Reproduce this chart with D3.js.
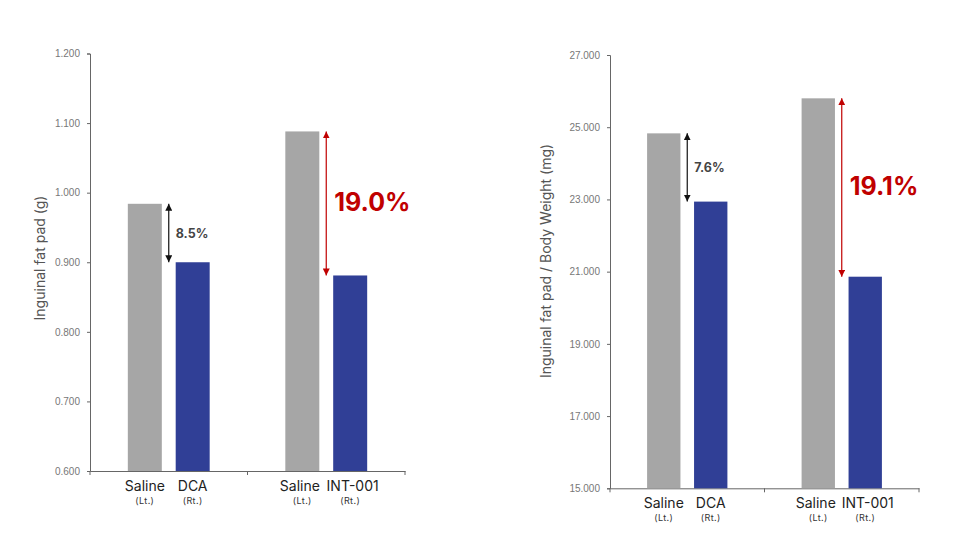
<!DOCTYPE html>
<html>
<head>
<meta charset="utf-8">
<script src="https://cdn.jsdelivr.net/npm/d3@7"></script>
<style>
  body { margin: 0; background: #fff; }
  svg { display: block; font-family: Inter, "Noto Sans", sans-serif; }
</style>
</head>
<body>
<div id="chart"></div>
<script>
var width = 966;
var height = 543;

// data
var groups = ["DCA", "INT-001"];
var barNames = [["Saline", "DCA"], ["Saline", "INT-001"]];
var sideLabels = ["(Lt.)", "(Rt.)"];

var fatPad = [[0.984, 0.900], [1.088, 0.881]];
var fatPadTicks = [0.6, 0.7, 0.8, 0.9, 1.0, 1.1, 1.2];
var fatPadPct = ["8.5%", "19.0%"];

var fatPerBw = [[24.83, 22.94], [25.80, 20.86]];
var fatPerBwTicks = [15, 17, 19, 21, 23, 25, 27];
var fatPerBwPct = ["7.6%", "19.1%"];

var barColors = ["#a6a6a6", "#303f96"];
var arrowColors = ["#111", "#c00000"];

var svg = d3.select("#chart")
  .append("svg")
  .attr("width", width)
  .attr("height", height);

var defs = svg.append("defs");
arrowColors.forEach(function(c, i) {
  ["s", "e"].forEach(function(end) {
    defs.append("marker")
      .attr("id", "arr" + i + end)
      .attr("viewBox", "0 0 10 10")
      .attr("refX", 10).attr("refY", 5)
      .attr("markerWidth", 7).attr("markerHeight", 7)
      .attr("markerUnits", "userSpaceOnUse")
      .attr("orient", end == "s" ? "auto-start-reverse" : "auto")
      .append("path")
      .attr("d", "M0,0L10,5L0,10Z")
      .attr("fill", c);
  });
});

function drawChart(opt) {
  var g = svg.append("g");

  var x = d3.scaleBand().domain(groups).range([opt.x0, opt.x1]);
  var xi = d3.scaleBand().domain([0, 1])
    .range([0, x.bandwidth()])
    .paddingInner(0.29)
    .paddingOuter(0.79);
  var y = d3.scaleLinear().domain(opt.domain).range([opt.y0, opt.y1]);

  // y axis
  var yAxis = g.append("g")
    .attr("transform", "translate(" + opt.x0 + ",0)")
    .call(d3.axisLeft(y).tickValues(opt.ticks).tickSize(3).tickPadding(7)
      .tickFormat(d3.format(".3f")));
  yAxis.selectAll("path, line").attr("stroke", "#666");
  yAxis.selectAll("text").attr("fill", "#777").attr("font-size", 10);

  // x axis
  var xAxis = g.append("g")
    .attr("transform", "translate(0," + opt.y0 + ")")
    .call(d3.axisBottom(x).tickValues([]).tickSizeOuter(0));
  xAxis.select("path").attr("stroke", "#666");
  xAxis.selectAll(".tk")
    .data([opt.x0, x(groups[1]), opt.x1])
    .enter().append("line")
    .attr("x1", function(d) { return d; })
    .attr("x2", function(d) { return d; })
    .attr("y1", 0).attr("y2", 4)
    .attr("stroke", "#666");

  groups.forEach(function(grp, gi) {
    var gx = x(grp);
    var vals = opt.values[gi];

    g.selectAll(".bar" + gi)
      .data(vals)
      .enter().append("rect")
      .attr("x", function(d, i) { return gx + xi(i); })
      .attr("y", function(d) { return y(d); })
      .attr("width", xi.bandwidth())
      .attr("height", function(d) { return y(opt.domain[0]) - y(d); })
      .attr("fill", function(d, i) { return barColors[i]; });

    // category labels (second group sits a bit spread apart)
    vals.forEach(function(d, i) {
      var cx = gx + xi(i) + xi.bandwidth() / 2;
      var nudge = gi == 1 ? (i == 0 ? -2.5 : 2.5) : 0;
      g.append("text")
        .attr("x", cx + nudge).attr("y", opt.y0 + 20)
        .attr("text-anchor", "middle")
        .attr("font-size", 14)
        .attr("fill", "#222")
        .text(barNames[gi][i]);
      g.append("text")
        .attr("x", cx).attr("y", opt.y0 + 33)
        .attr("text-anchor", "middle")
        .attr("font-size", 9)
        .attr("letter-spacing", 0.4)
        .attr("fill", "#333")
        .text(sideLabels[i]);
    });

    // difference arrow
    var ax = gx + (xi(0) + xi.bandwidth() + xi(1)) / 2;
    var ya = y(vals[0]), yb = y(vals[1]);
    g.append("line")
      .attr("x1", ax).attr("x2", ax)
      .attr("y1", ya).attr("y2", yb)
      .attr("stroke", arrowColors[gi])
      .attr("stroke-width", 1.2)
      .attr("marker-start", "url(#arr" + gi + "s)")
      .attr("marker-end", "url(#arr" + gi + "e)");

    g.append("text")
      .attr("x", ax + (gi == 0 ? 7 : 8))
      .attr("y", (ya + yb) / 2 - (gi == 0 ? 0 : 1.5))
      .attr("dy", "0.36em")
      .attr("font-size", gi == 0 ? 12.5 : 25)
      .attr("font-weight", "bold")
      .attr("fill", gi == 0 ? "#444" : "#c00000")
      .text(opt.pct[gi]);
  });

  // y title
  g.append("text")
    .attr("transform", "translate(" + opt.titleX + "," + opt.titleY + ") rotate(-90)")
    .attr("text-anchor", "middle")
    .attr("dy", "0.35em")
    .attr("font-size", 14)
    .attr("fill", "#555")
    .text(opt.title);
}

drawChart({
  x0: 90, x1: 405, y0: 471, y1: 53.5,
  domain: [0.6, 1.2], ticks: fatPadTicks,
  values: fatPad, pct: fatPadPct,
  title: "Inguinal fat pad (g)", titleX: 40, titleY: 258
});

drawChart({
  x0: 610, x1: 919, y0: 488.3, y1: 55,
  domain: [15, 27], ticks: fatPerBwTicks,
  values: fatPerBw, pct: fatPerBwPct,
  title: "Inguinal fat pad / Body Weight (mg)", titleX: 546, titleY: 261
});
</script>
</body>
</html>
